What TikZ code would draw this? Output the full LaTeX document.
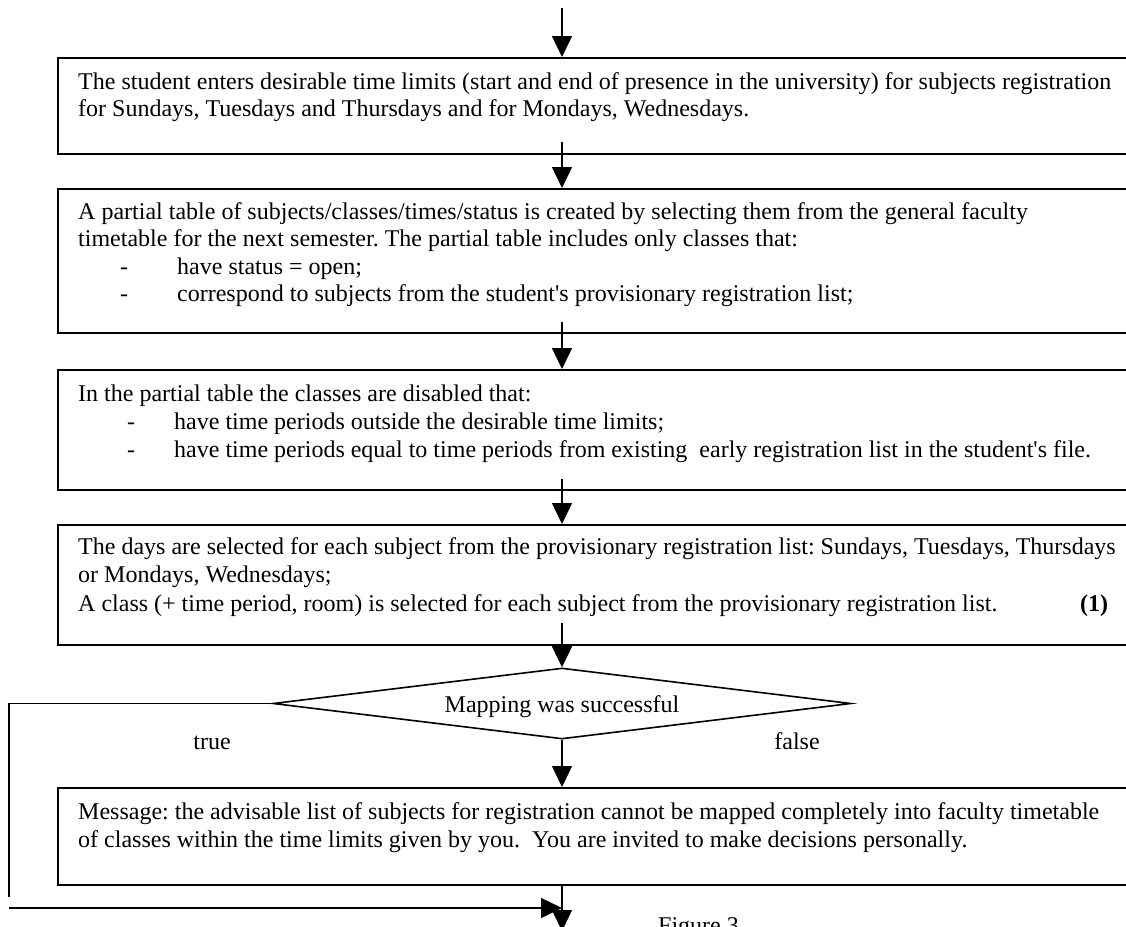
\documentclass[tikz,border=0pt]{standalone}
\usepackage{fontspec}
\setmainfont{Liberation Serif}
\usetikzlibrary{arrows.meta,shapes.geometric,calc}
\frenchspacing
\begin{document}
\begin{tikzpicture}[x=1pt,y=-1pt,
  procbox/.style={draw,line width=1.8pt,rectangle,anchor=north west,inner sep=0pt,minimum width=1100pt},
  txt/.style={anchor=base west,inner sep=0pt,font=\fontsize{24pt}{27.5pt}\selectfont},
  lbl/.style={anchor=base,inner sep=0pt,font=\fontsize{24pt}{27.5pt}\selectfont},
  flow/.style={line width=1.4pt,-{Triangle[length=21pt,width=20pt]}},
  plain/.style={line width=1.5pt}
]
\useasboundingbox (0,0) rectangle (1126,926);
\coordinate (ax) at (562,0);
\coordinate (top) at (562,8);

% boxes
\node[procbox,minimum height=96pt]  (b1) at (57,57) {};
\node[procbox,minimum height=144pt] (b2) at (57,188) {};
\node[procbox,minimum height=120pt] (b3) at (57,369) {};
\node[procbox,minimum height=120pt] (b4) at (57,524) {};
\node[procbox,minimum height=97pt]  (b5) at (57,787) {};
\node[diamond,draw,line width=1.6pt,minimum width=578pt,minimum height=71pt,inner sep=0pt] (dm) at (562,703.5) {};

% texts
\node[txt] (t1a) at (78,89) {The student enters desirable time limits (start and end of presence in the university) for subjects registration};
\node[txt] (t1b) at (78,116) {for Sundays, Tuesdays and Thursdays and for Mondays, Wednesdays.};

\node[txt] (t2a) at (78,219) {A partial table of subjects/classes/times/status is created by selecting them from the general faculty};
\node[txt] (t2b) at (78,246) {timetable for the next semester. The partial table includes only classes that:};
\node[txt] (t2c) at (120,274) {-};
\node[txt] (t2d) at (177,274) {have status = open;};
\node[txt] (t2e) at (120,301) {-};
\node[txt] (t2f) at (177,301) {correspond to subjects from the student\textquotesingle s provisionary registration list;};

\node[txt] (t3a) at (78,401) {In the partial table the classes are disabled that:};
\node[txt] (t3b) at (127,429) {-};
\node[txt] (t3c) at (174,429) {have time periods outside the desirable time limits;};
\node[txt] (t3d) at (127,457) {-};
\node[txt] (t3e) at (174,457) {have time periods equal to time periods from existing~ early registration list in the student\textquotesingle s file.};

\node[txt] (t4a) at (78,554) {The days are selected for each subject from the provisionary registration list: Sundays, Tuesdays, Thursdays};
\node[txt] (t4b) at (78,582) {or Mondays, Wednesdays;};
\node[txt] (t4c) at (78,611) {A class (+ time period, room) is selected for each subject from the provisionary registration list.};
\node[txt] (t4d) at (1080,611) {\textbf{(1)}};

\node[lbl] (dmt) at (562,712) {Mapping was successful};
\node[lbl] (tt) at (212,749) {true};
\node[lbl] (ft) at (797,749) {false};

\node[txt] (t5a) at (78,819) {Message: the advisable list of subjects for registration cannot be mapped completely into faculty timetable};
\node[txt] (t5b) at (78,847) {of classes within the time limits given by you.~ You are invited to make decisions personally.};

\node[txt] (fig) at (658,933) {Figure 3};

% connectors
\draw[flow] (top) -- (b1.north -| ax);
\draw[flow] ($(b1.south -| ax)+(0,-13)$) -- (b2.north -| ax);
\draw[flow] ($(b2.south -| ax)+(0,-12)$) -- (b3.north -| ax);
\draw[flow] ($(b3.south -| ax)+(0,-12)$) -- (b4.north -| ax);
\draw[flow] ($(b4.south -| ax)+(0,-23)$) -- (dm.north);
\draw[flow] (dm.south) -- (b5.north -| ax);
\coordinate (bot) at (562,931);
\draw[flow] (b5.south -| ax) -- (bot);
\coordinate (lp1) at (9,704);
\coordinate (lp2) at (9,897);
\draw[plain] (dm.west) -- (dm.west -| lp1) -- (lp2);
\coordinate (lp3) at (9,908);
\draw[flow] (lp3) -- (lp3 -| ax);
\end{tikzpicture}
\end{document}
